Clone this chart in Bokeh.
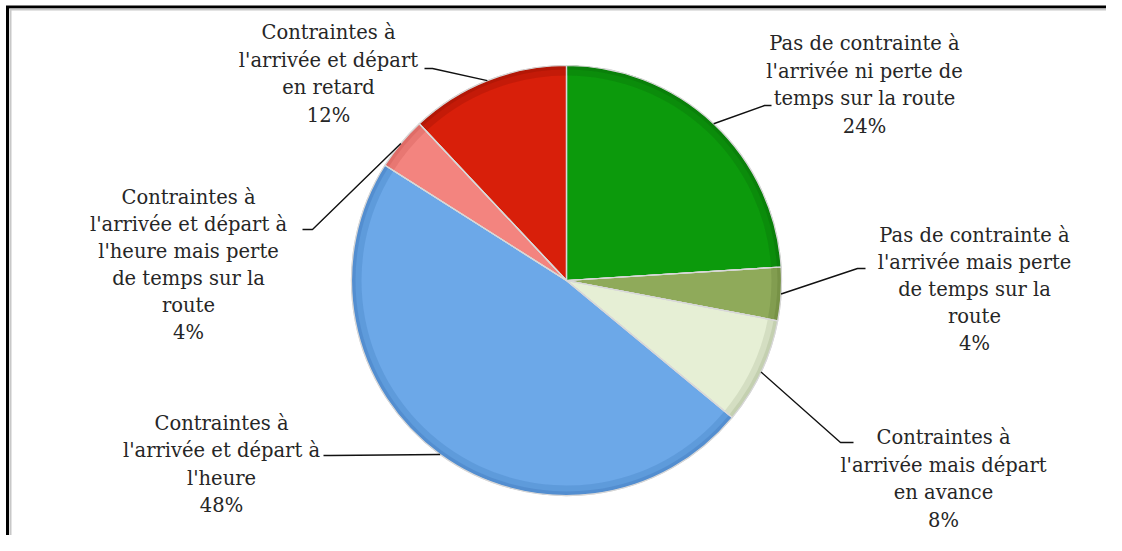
import numpy as np
from bokeh.plotting import figure
from bokeh.models import Range1d, ColumnDataSource
from bokeh.embed import file_html
from bokeh.resources import INLINE
from bokeh.core.properties import value

# ---------------- data ----------------
categories = [
    "Pas de contrainte à\nl'arrivée ni perte de\ntemps sur la route",
    "Pas de contrainte à\nl'arrivée mais perte\nde temps sur la\nroute",
    "Contraintes à\nl'arrivée mais départ\nen avance",
    "Contraintes à\nl'arrivée et départ à\nl'heure",
    "Contraintes à\nl'arrivée et départ à\nl'heure mais perte\nde temps sur la\nroute",
    "Contraintes à\nl'arrivée et départ\nen retard",
]
values = [24, 4, 8, 48, 4, 12]
colors = ["#0C9A0C", "#8FAA5A", "#E6EFD5", "#6CA8E8", "#F3847F", "#D81F0A"]
dark_colors = ["#0A780A", "#6F8A40", "#B9C6A4", "#4C86C8", "#D86560", "#A81505"]

# ---------------- layout (reference pixel coordinates) ----------------
W, H = 1106, 535
IMG_H = 551
CX, CY, R = 566, 280, 215
# label centre x, first line centre y, line spacing, elbow point, end point
label_layout = [
    (864, 43, 27.5, (764, 105), (771, 105)),
    (974, 235, 27.0, (857, 268), (865, 268)),
    (943, 437, 27.7, (840, 442), (853, 442)),
    (221, 423, 27.3, (330, 455), (323, 455)),
    (188, 197, 27.0, (312, 229), (302, 229)),
    (328, 32, 27.5, (432, 68), (424, 68)),
]


def Y(ry):
    return IMG_H - ry


p = figure(width=W, height=H, x_range=Range1d(0, W), y_range=Range1d(IMG_H - H, IMG_H),
           output_backend="svg", toolbar_location=None, min_border=0)
p.axis.visible = False
p.grid.visible = False
p.outline_line_color = None
p.background_fill_color = "white"
p.border_fill_color = "white"

# frame (top and left)
p.line([7, 7], [Y(560), Y(5.5)], line_color="black", line_width=3)
p.line([5.5, 1130], [Y(6.5), Y(6.5)], line_color="black", line_width=3)
p.line([10, 10], [Y(560), Y(9)], line_color="#c8c8c8", line_width=2)
p.line([9, 1130], [Y(9), Y(9)], line_color="#c8c8c8", line_width=2)

# pie
total = float(sum(values))
fracs = np.array(values) / total
cum = np.concatenate([[0], np.cumsum(fracs)])
starts = np.pi / 2 - cum[:-1] * 2 * np.pi
ends = np.pi / 2 - cum[1:] * 2 * np.pi
mids = (starts + ends) / 2

src = ColumnDataSource(dict(x=[CX] * len(values), y=[Y(CY)] * len(values),
                            start=list(ends), end=list(starts), color=colors, dark=dark_colors))
p.wedge(x="x", y="y", radius=R, start_angle="start", end_angle="end", fill_color="color",
        line_color="#d8d8d8", line_width=1.2, source=src)
# bevel: darker outer rim
p.annular_wedge(x="x", y="y", inner_radius=R - 10, outer_radius=R, start_angle="start", end_angle="end",
                fill_color="dark", fill_alpha=0.4, line_color=None, source=src)
p.annular_wedge(x="x", y="y", inner_radius=R - 4, outer_radius=R, start_angle="start", end_angle="end",
                fill_color="dark", fill_alpha=0.6, line_color=None, source=src)
p.wedge(x="x", y="y", radius=R, start_angle="start", end_angle="end", fill_color=None,
        line_color="#d8d8d8", line_width=1.2, source=src)

# leader lines and labels
for i, (cat, v) in enumerate(zip(categories, values)):
    lx, ly, sp, elbow, endp = label_layout[i]
    rx = CX + R * np.cos(mids[i])
    ry = CY - R * np.sin(mids[i])
    p.line([rx, elbow[0], endp[0]], [Y(ry), Y(elbow[1]), Y(endp[1])], line_color="#111111", line_width=1.4)
    lines = cat.split("\n") + [f"{v}%"]
    ys = [Y(ly + k * sp) for k in range(len(lines))]
    p.text(x=[lx] * len(lines), y=ys, text=lines, text_align="center", text_baseline="middle",
           text_font=value("DejaVu Serif"), text_font_size="19.5px", text_color="#262626")

open("out.html", "w").write(file_html(p, INLINE))
